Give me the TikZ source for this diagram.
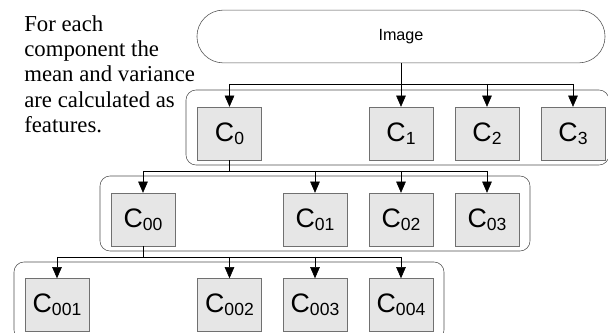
\documentclass[tikz,border=0pt]{standalone}
\usepackage{fontspec}
\setmainfont{Liberation Serif}
\newfontfamily\arial{Liberation Sans}
\usetikzlibrary{arrows.meta}
\definecolor{boxfill}{HTML}{E6E6E6}
\definecolor{boxline}{HTML}{707070}
\definecolor{grpline}{HTML}{505050}
\newcommand{\comp}[1]{C\raisebox{-0.08cm}{\fontsize{12.5pt}{12.5pt}\selectfont #1}}

\begin{document}
\begin{tikzpicture}[x=0.025cm, y=-0.025cm,
  comp/.style={rectangle, draw=boxline, fill=boxfill, thin, inner sep=0pt,
               minimum width=1.6cm, minimum height=1.32cm,
               font=\arial\fontsize{19pt}{19pt}\selectfont},
  group/.style={draw=grpline, thin, rounded corners=0.25cm},
  arr/.style={-{Triangle[length=0.28cm, width=0.24cm]}, thin},
  bus/.style={thin}]
\useasboundingbox (0,0) rectangle (608,333);

% note on the left
\node (note) [anchor=north west, inner sep=0pt, align=left,
      font=\fontsize{16.2pt}{18.1pt}\selectfont] at (24,15)
      {For each\\component the\\mean and variance\\are calculated as\\features.};

% input
\node (img) [draw=grpline, thin, rounded corners=0.66cm, minimum width=10.2cm,
      minimum height=1.32cm, font=\arial\fontsize{11.5pt}{11.5pt}\selectfont]
      at (401,36.5) {Image};

% level 1
\draw[group] (186,90) rectangle (609,165);
\node (c0) [comp] at (229.5,133.5) {\comp{0}};
\node (c1) [comp] at (401,133.5) {\comp{1}};
\node (c2) [comp] at (487,133.5) {\comp{2}};
\node (c3) [comp] at (573,133.5) {\comp{3}};

% level 2
\draw[group] (100,176) rectangle (530,251);
\node (c00) [comp] at (143,219.5) {\comp{00}};
\node (c01) [comp] at (315,219.5) {\comp{01}};
\node (c02) [comp] at (401,219.5) {\comp{02}};
\node (c03) [comp] at (487,219.5) {\comp{03}};

% level 3
\draw[group] (14,262) rectangle (444,340);
\node (c001) [comp] at (57,305) {\comp{001}};
\node (c002) [comp] at (229.5,305) {\comp{002}};
\node (c003) [comp] at (315,305) {\comp{003}};
\node (c004) [comp] at (401,305) {\comp{004}};

% connectors
\coordinate (bus1) at (401,84);
\coordinate (bus2) at (315,171);
\coordinate (bus3) at (229.5,257);

\draw[arr] (img.south) -- (c1.north);
\draw[bus] (bus1 -| c0) -- (bus1 -| c3);
\foreach \n in {c0,c2,c3}
  \draw[arr] (bus1 -| \n) -- (\n.north);

\draw[bus] (c0.south) -- (bus2 -| c0) (bus2 -| c00) -- (bus2 -| c03);
\foreach \n in {c00,c01,c02,c03}
  \draw[arr] (bus2 -| \n) -- (\n.north);

\draw[bus] (c00.south) -- (bus3 -| c00) (bus3 -| c001) -- (bus3 -| c004);
\foreach \n in {c001,c002,c003,c004}
  \draw[arr] (bus3 -| \n) -- (\n.north);

\end{tikzpicture}
\end{document}
